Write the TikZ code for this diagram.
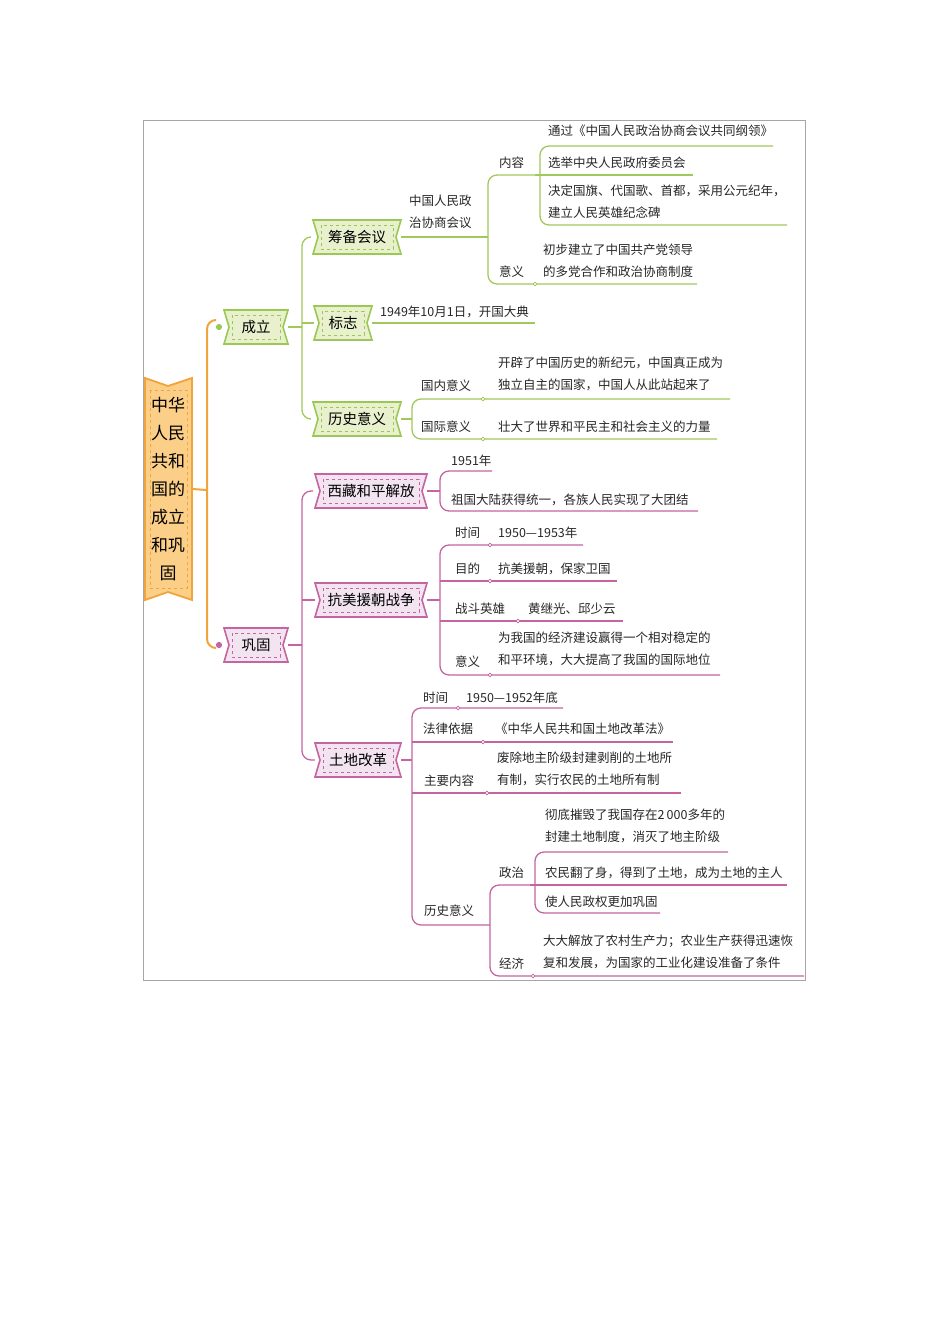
\documentclass[tikz,border=0pt]{standalone}
\usepackage{fontspec}
\setmainfont{Noto Sans CJK SC}
\begin{document}
\begin{tikzpicture}[x=1pt,y=-1pt,
  gl/.style={draw=green!45!lime!70!olive!60, color={rgb,255:red,160;green,200;blue,90}, line width=1.3pt, rounded corners=9pt},
  pl/.style={color={rgb,255:red,196;green,100;blue,160}, line width=1.3pt, rounded corners=9pt},
  ol/.style={color={rgb,255:red,240;green,165;blue,60}, line width=2pt, rounded corners=9pt},
  tx/.style={anchor=west, font=\fontsize{12.5}{22}\selectfont, align=left, inner sep=0pt, text=black!85},
  dot/.style={circle, draw, fill=white, inner sep=1.3pt, line width=0.8pt}]
\definecolor{gfill}{RGB}{232,240,205}
\definecolor{gdraw}{RGB}{155,200,85}
\definecolor{pfill}{RGB}{242,228,240}
\definecolor{pdraw}{RGB}{196,100,160}
\definecolor{ofill}{RGB}{252,207,136}
\definecolor{odraw}{RGB}{240,165,60}
\useasboundingbox (0,0) rectangle (950,1344);
\draw[black!35, line width=0.6pt] (143,120) rectangle (805,980);
\newcommand\bx[7]{% name, x, y, halfwidth, text, fill, draw
  \filldraw[fill=#6, draw=#7, line width=1.6pt] (#2-#4,#3-17)--(#2+#4,#3-17)--(#2+#4-5,#3)--(#2+#4,#3+17)--(#2-#4,#3+17)--(#2-#4+5,#3)--cycle;
  \draw[#7, dashed, line width=0.7pt] (#2-#4+8,#3-12) rectangle (#2+#4-8,#3+12);
  \node[minimum width=2*#4, minimum height=34, inner sep=0pt, font=\fontsize{14.5}{16}\selectfont] (#1) at (#2,#3) {#5};}
% root
\filldraw[fill=ofill, draw=odraw, line width=1.8pt] (145,378)--(168,386)--(192,378)--(192,600)--(168,592)--(145,600)--cycle;
\draw[odraw, dashed, line width=0.7pt] (150,390) rectangle (187,588);
\node[font=\fontsize{17}{28}\selectfont, align=center, inner sep=0pt] (root) at (168,489) {中华\\人民\\共和\\国的\\成立\\和巩\\固};
\coordinate (ob) at (207,490);
\draw[ol] (root.east)++(7,0) -- (ob);
\draw[ol] (215,320) -| (ob) |- (215,648);
% level 1
\bx{cl}{256}{327}{32}{成立}{gfill}{gdraw}
\bx{gg}{256}{645}{32}{巩固}{pfill}{pdraw}
\node[circle, fill=gdraw, inner sep=2.2pt] (d1) at (219,327) {};
\node[circle, fill=pdraw, inner sep=2.2pt] (d2) at (219,645) {};
% green level 2
\bx{cb}{357}{237}{44}{筹备会议}{gfill}{gdraw}
\bx{bz}{343}{323}{29}{标志}{gfill}{gdraw}
\bx{ls}{357}{419}{44}{历史意义}{gfill}{gdraw}
\draw[gl] (cl.east) -- (302,327);
\draw[gl] (311,237) -| (302,419) -- (311,419);
\draw[gl] (302,323) -- (bz.west);
% 筹备会议
\node[tx] (zx) at (409,212) {中国人民政\\治协商会议};
\draw[gl] (cb.east) -- (488,237);
\draw[gl] (535,175) -| (488,284) -- (697,284);
\node[tx] (nr) at (499,163) {内容};
\node[tx] (yy1) at (499,272) {意义};
\node[tx] (yy1t) at (543,261) {初步建立了中国共产党领导\\的多党合作和政治协商制度};
\draw[gl] (535,175) -- (540,175);
\draw[gl] (773,146) -- (540,146) |- (787,225);
\draw[gl] (540,175) -- (693,175);
\node[tx] (a1) at (548,131) {通过《中国人民政治协商会议共同纲领》};
\node[tx] (a2) at (548,163) {选举中央人民政府委员会};
\node[tx] (a3) at (548,202) {决定国旗、代国歌、首都，采用公元纪年，\\建立人民英雄纪念碑};
\node[dot, draw=gdraw] at (535,284) {};
% 标志
\draw[gl] (bz.east) -- (535,323);
\node[tx] (bzt) at (380,312) {1949年10月1日，开国大典};
% 历史意义
\draw[gl] (ls.east) -- (412,419);
\draw[gl] (730,399) -- (412,399) |- (717,439);
\node[tx] (gn) at (421,386) {国内意义};
\node[tx] (gj) at (421,427) {国际意义};
\node[tx] (gnt) at (498,374) {开辟了中国历史的新纪元，中国真正成为\\独立自主的国家，中国人从此站起来了};
\node[tx] (gjt) at (498,427) {壮大了世界和平民主和社会主义的力量};
\node[dot, draw=gdraw] at (483,399) {};
\node[dot, draw=gdraw] at (483,439) {};
% pink level 2
\bx{xz}{371}{491}{56}{西藏和平解放}{pfill}{pdraw}
\bx{km}{371}{600}{56}{抗美援朝战争}{pfill}{pdraw}
\bx{td}{358}{760}{43}{土地改革}{pfill}{pdraw}
\draw[pl] (gg.east) -- (302,645);
\draw[pl] (313,491) -| (302,760) -- (td.west);
\draw[pl] (302,600) -- (km.west);
% 西藏
\draw[pl] (xz.east) -- (440,491);
\draw[pl] (492,471) -- (440,471) |- (698,511);
\node[tx] (x1) at (451,461) {1951年};
\node[tx] (x2) at (451,500) {祖国大陆获得统一，各族人民实现了大团结};
% 抗美援朝
\draw[pl] (km.east) -- (440,600);
\draw[pl] (583,545) -- (440,545) |- (720,675);
\draw[pl] (440,581) -- (617,581);
\draw[pl] (440,621) -- (623,621);
\node[tx] (k1) at (455,533) {时间};
\node[tx] (k1t) at (498,533) {1950—1953年};
\node[tx] (k2) at (455,569) {目的};
\node[tx] (k2t) at (498,569) {抗美援朝，保家卫国};
\node[tx] (k3) at (455,609) {战斗英雄};
\node[tx] (k3t) at (528,609) {黄继光、邱少云};
\node[tx] (k4) at (455,662) {意义};
\node[tx] (k4t) at (498,649) {为我国的经济建设赢得一个相对稳定的\\和平环境，大大提高了我国的国际地位};
\foreach \p in {(490,545),(490,581),(518,621),(490,675)} \node[dot, draw=pdraw] at \p {};
% 土地改革
\draw[pl] (td.east) -- (412,760);
\draw[pl] (563,708) -- (412,708) |- (490,925);
\draw[pl] (412,742) -- (673,742);
\draw[pl] (412,793) -- (681,793);
\node[tx] (t1) at (423,698) {时间};
\node[tx] (t1t) at (466,698) {1950—1952年底};
\node[tx] (t2) at (423,729) {法律依据};
\node[tx] (t2t) at (495,729) {《中华人民共和国土地改革法》};
\node[tx] (t3) at (424,781) {主要内容};
\node[tx] (t3t) at (497,769) {废除地主阶级封建剥削的土地所\\有制，实行农民的土地所有制};
\node[tx] (t4) at (424,911) {历史意义};
\foreach \p in {(458,708),(483,742),(487,793)} \node[dot, draw=pdraw] at \p {};
\draw[pl] (530,885) -- (490,885) |- (804,976);
\node[tx] (zz) at (499,873) {政治};
\node[tx] (jj) at (499,964) {经济};
\draw[pl] (728,852) -- (535,852) |- (660,913);
\draw[pl] (530,885) -- (787,885);
\node[tx] (z1) at (545,826) {彻底摧毁了我国存在2\,000多年的\\封建土地制度，消灭了地主阶级};
\node[tx] (z2) at (545,873) {农民翻了身，得到了土地，成为土地的主人};
\node[tx] (z3) at (545,902) {使人民政权更加巩固};
\node[tx] (j1) at (543,952) {大大解放了农村生产力；农业生产获得迅速恢\\复和发展，为国家的工业化建设准备了条件};
\node[dot, draw=pdraw] at (533,976) {};
\end{tikzpicture}
\end{document}
